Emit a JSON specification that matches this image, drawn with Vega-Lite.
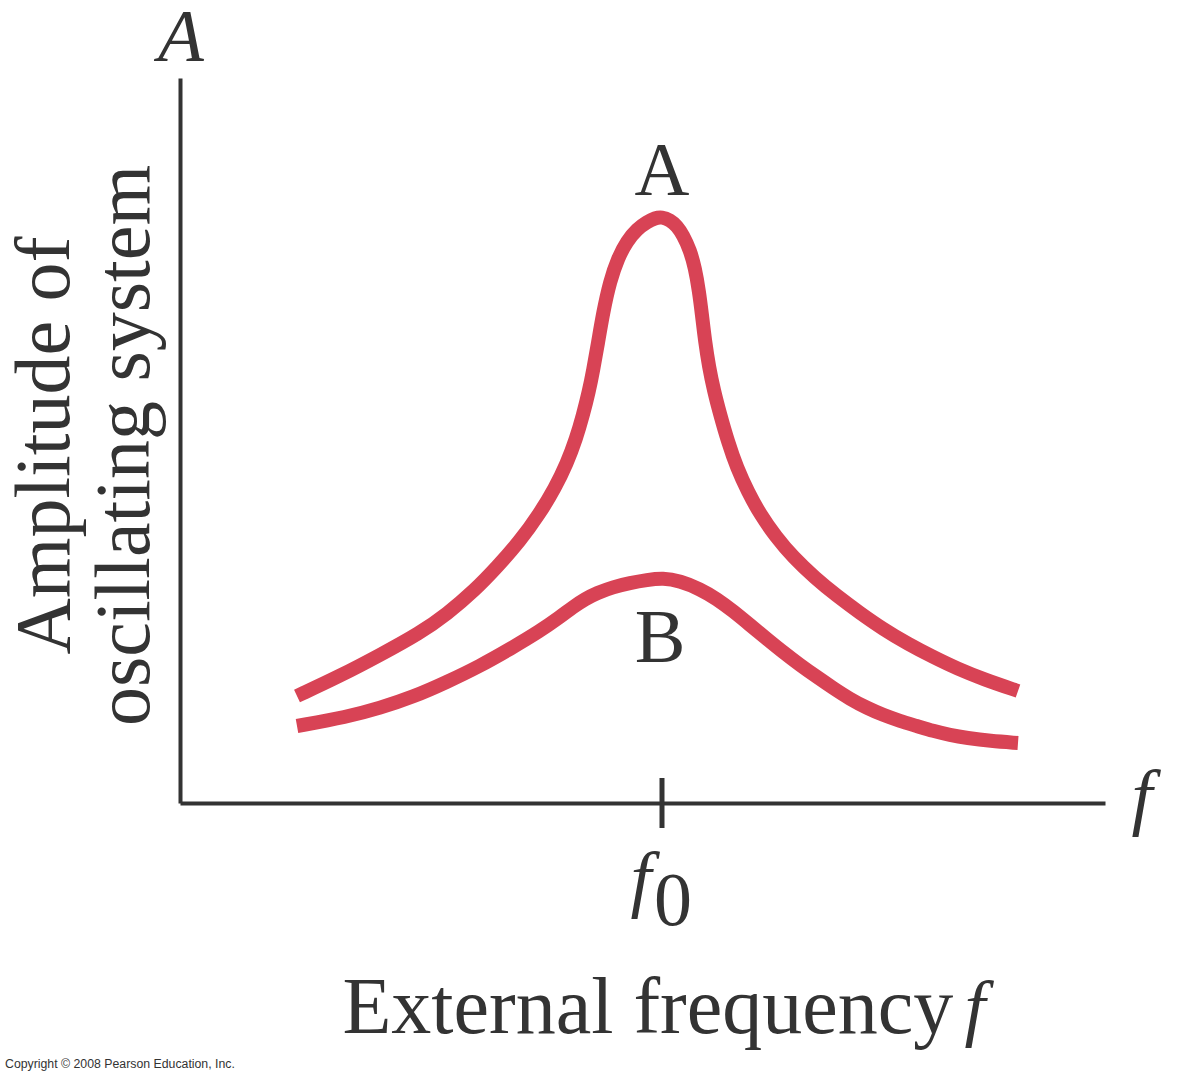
{
  "$schema": "https://vega.github.io/schema/vega-lite/v6.json",
  "width": 925,
  "height": 725,
  "autosize": {"type": "none"},
  "padding": {"left": 180, "top": 78, "right": 72, "bottom": 277},
  "background": "white",
  "config": {"view": {"stroke": null}},
  "datasets": {
    "curves": [
      {"series": "A", "x": 117, "y": 107}, {"series": "A", "x": 160, "y": 127}, {"series": "A", "x": 200, "y": 148}, {"series": "A", "x": 240, "y": 170}, {"series": "A", "x": 267, "y": 189}, {"series": "A", "x": 295, "y": 213}, {"series": "A", "x": 317, "y": 236}, {"series": "A", "x": 340, "y": 262}, {"series": "A", "x": 360, "y": 290}, {"series": "A", "x": 375, "y": 315}, {"series": "A", "x": 387, "y": 340}, {"series": "A", "x": 396, "y": 364}, {"series": "A", "x": 403, "y": 388}, {"series": "A", "x": 409, "y": 412}, {"series": "A", "x": 413, "y": 432}, {"series": "A", "x": 418, "y": 460}, {"series": "A", "x": 423, "y": 490}, {"series": "A", "x": 430, "y": 522}, {"series": "A", "x": 438, "y": 545}, {"series": "A", "x": 447, "y": 562}, {"series": "A", "x": 457, "y": 574}, {"series": "A", "x": 467, "y": 581}, {"series": "A", "x": 475, "y": 585}, {"series": "A", "x": 482, "y": 586}, {"series": "A", "x": 490, "y": 583}, {"series": "A", "x": 497, "y": 577}, {"series": "A", "x": 503, "y": 568}, {"series": "A", "x": 510, "y": 553}, {"series": "A", "x": 515, "y": 535}, {"series": "A", "x": 519, "y": 512}, {"series": "A", "x": 522, "y": 488}, {"series": "A", "x": 525, "y": 462}, {"series": "A", "x": 529, "y": 436}, {"series": "A", "x": 534, "y": 412}, {"series": "A", "x": 540, "y": 389}, {"series": "A", "x": 548, "y": 361}, {"series": "A", "x": 557, "y": 335}, {"series": "A", "x": 568, "y": 311}, {"series": "A", "x": 580, "y": 289}, {"series": "A", "x": 596, "y": 266}, {"series": "A", "x": 613, "y": 246}, {"series": "A", "x": 635, "y": 225}, {"series": "A", "x": 657, "y": 207}, {"series": "A", "x": 680, "y": 190}, {"series": "A", "x": 703, "y": 174}, {"series": "A", "x": 728, "y": 159}, {"series": "A", "x": 753, "y": 146}, {"series": "A", "x": 778, "y": 134}, {"series": "A", "x": 803, "y": 124}, {"series": "A", "x": 838, "y": 112},
      {"series": "B", "x": 117, "y": 77}, {"series": "B", "x": 167, "y": 86}, {"series": "B", "x": 200, "y": 95}, {"series": "B", "x": 233, "y": 106}, {"series": "B", "x": 267, "y": 121}, {"series": "B", "x": 300, "y": 137}, {"series": "B", "x": 330, "y": 154}, {"series": "B", "x": 360, "y": 172}, {"series": "B", "x": 380, "y": 186}, {"series": "B", "x": 393, "y": 196}, {"series": "B", "x": 405, "y": 204}, {"series": "B", "x": 417, "y": 210}, {"series": "B", "x": 433, "y": 216}, {"series": "B", "x": 450, "y": 220}, {"series": "B", "x": 467, "y": 223}, {"series": "B", "x": 483, "y": 225}, {"series": "B", "x": 500, "y": 222}, {"series": "B", "x": 520, "y": 214}, {"series": "B", "x": 537, "y": 204}, {"series": "B", "x": 553, "y": 192}, {"series": "B", "x": 570, "y": 178}, {"series": "B", "x": 587, "y": 164}, {"series": "B", "x": 603, "y": 151}, {"series": "B", "x": 620, "y": 138}, {"series": "B", "x": 637, "y": 126}, {"series": "B", "x": 653, "y": 115}, {"series": "B", "x": 670, "y": 104}, {"series": "B", "x": 687, "y": 95}, {"series": "B", "x": 703, "y": 88}, {"series": "B", "x": 720, "y": 82}, {"series": "B", "x": 737, "y": 77}, {"series": "B", "x": 753, "y": 72}, {"series": "B", "x": 770, "y": 68}, {"series": "B", "x": 787, "y": 65}, {"series": "B", "x": 810, "y": 62}, {"series": "B", "x": 838, "y": 60}
    ],
    "tick": [{"x": 482, "y": 25, "y2": -25}],
    "italic": [
      {"x": 1, "y": 742, "text": "A"},
      {"x": 962, "y": -18, "text": "f"},
      {"x": 461, "y": -100, "text": "f"},
      {"x": 795, "y": -229, "text": "f"}
    ],
    "upright": [
      {"x": 482, "y": 608, "text": "A"},
      {"x": 480, "y": 141, "text": "B"},
      {"x": 493, "y": -122, "text": "0"}
    ],
    "credit": [{"x": -175, "y": -265, "text": "Copyright © 2008 Pearson Education, Inc."}]
  },
  "layer": [
    {
      "data": {"name": "curves"},
      "mark": {"type": "line", "interpolate": "basis", "strokeWidth": 14, "strokeCap": "butt", "color": "#d84355"},
      "encoding": {
        "x": {
          "field": "x", "type": "quantitative",
          "scale": {"domain": [0, 925], "nice": false, "zero": false},
          "axis": {
            "title": "External frequency",
            "titleFont": "Liberation Serif", "titleFontSize": 80, "titleFontWeight": "normal", "titleColor": "#333333",
            "titleAlign": "left", "titleAnchor": null, "titleX": 162, "titleY": 229, "titleBaseline": "alphabetic",
            "labels": false, "ticks": false, "grid": false,
            "domainColor": "#333333", "domainWidth": 4
          }
        },
        "y": {
          "field": "y", "type": "quantitative",
          "scale": {"domain": [0, 725], "nice": false, "zero": false},
          "axis": {
            "title": ["Amplitude of", "oscillating system"],
            "titleFont": "Liberation Serif", "titleFontSize": 78, "titleFontWeight": "normal", "titleColor": "#333333",
            "titleAngle": 270, "titleAlign": "center", "titleAnchor": null, "titleBaseline": "alphabetic",
            "titleX": -112, "titleY": 367, "titleLineHeight": 80,
            "labels": false, "ticks": false, "grid": false,
            "domainColor": "#333333", "domainWidth": 4
          }
        },
        "detail": {"field": "series", "type": "nominal"}
      }
    },
    {
      "data": {"name": "tick"},
      "mark": {"type": "rule", "strokeWidth": 5, "color": "#333333"},
      "encoding": {
        "x": {"field": "x", "type": "quantitative"},
        "y": {"field": "y", "type": "quantitative"},
        "y2": {"field": "y2"}
      }
    },
    {
      "data": {"name": "italic"},
      "mark": {"type": "text", "font": "Liberation Serif", "fontStyle": "italic", "fontSize": 75, "color": "#333333", "align": "center", "baseline": "alphabetic"},
      "encoding": {
        "x": {"field": "x", "type": "quantitative"},
        "y": {"field": "y", "type": "quantitative"},
        "text": {"field": "text"}
      }
    },
    {
      "data": {"name": "upright"},
      "mark": {"type": "text", "font": "Liberation Serif", "fontSize": 76, "color": "#333333", "align": "center", "baseline": "alphabetic"},
      "encoding": {
        "x": {"field": "x", "type": "quantitative"},
        "y": {"field": "y", "type": "quantitative"},
        "text": {"field": "text"}
      }
    },
    {
      "data": {"name": "credit"},
      "mark": {"type": "text", "font": "Liberation Sans", "fontSize": 12.3, "color": "#333333", "align": "left", "baseline": "alphabetic"},
      "encoding": {
        "x": {"field": "x", "type": "quantitative"},
        "y": {"field": "y", "type": "quantitative"},
        "text": {"field": "text"}
      }
    }
  ]
}
